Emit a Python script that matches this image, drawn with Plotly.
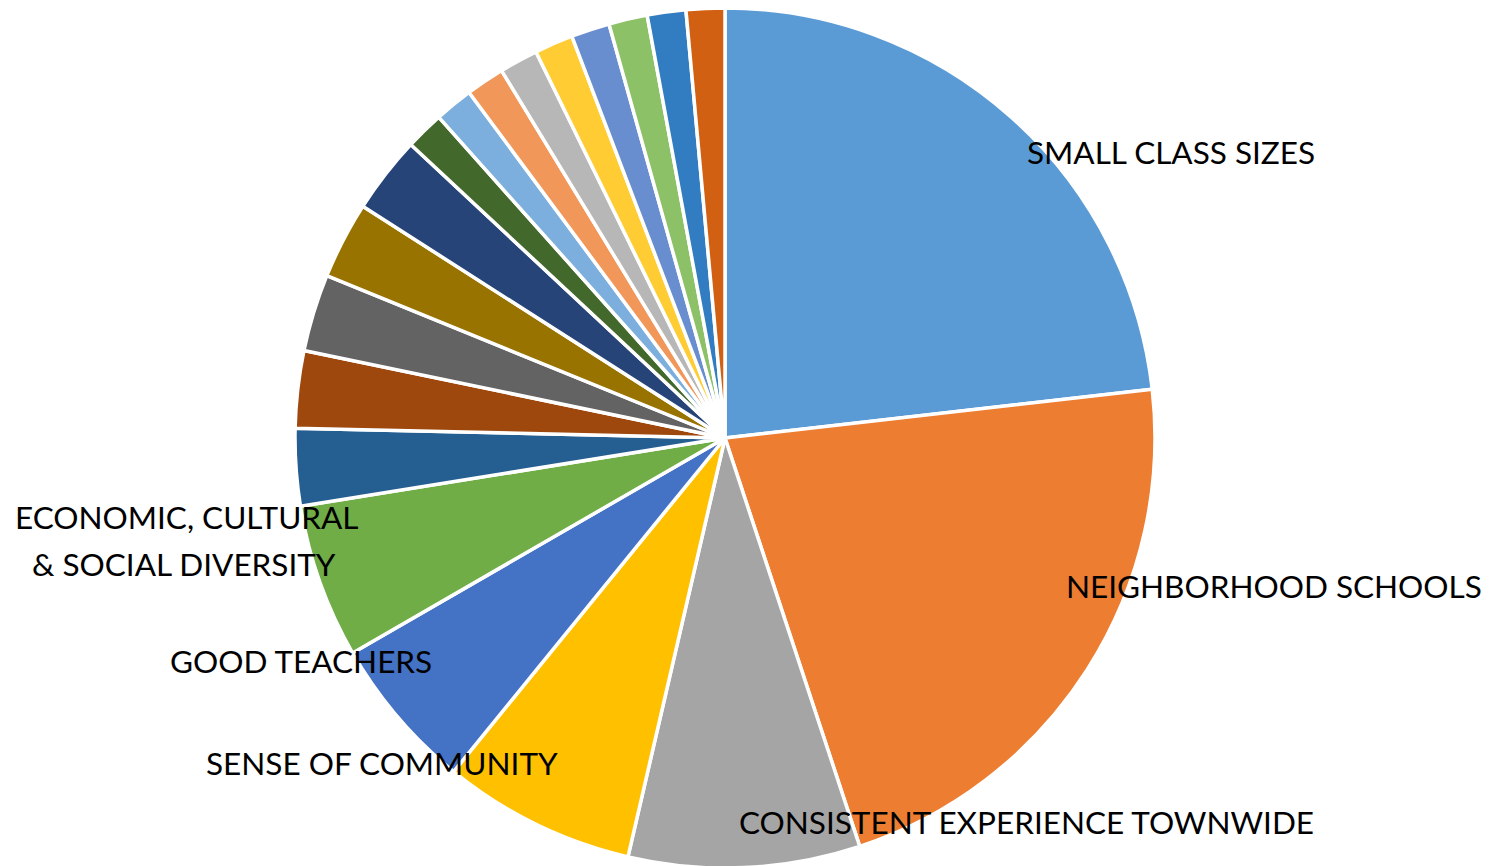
import plotly.graph_objects as go

categories = [
    "SMALL CLASS SIZES", "NEIGHBORHOOD SCHOOLS", "CONSISTENT EXPERIENCE TOWNWIDE",
    "SENSE OF COMMUNITY", "GOOD TEACHERS", "ECONOMIC, CULTURAL<br>& SOCIAL DIVERSITY",
    "Other 1", "Other 2", "Other 3", "Other 4", "Other 5", "Other 6", "Other 7",
    "Other 8", "Other 9", "Other 10", "Other 11", "Other 12", "Other 13", "Other 14",
]
values = [16, 15, 6, 5, 4, 4, 2, 2, 2, 2, 2, 1, 1, 1, 1, 1, 1, 1, 1, 1]
colors = [
    "#5B9BD5", "#ED7D31", "#A5A5A5", "#FFC000", "#4472C4", "#70AD47",
    "#255E91", "#9E480E", "#636363", "#997300", "#264478", "#43682B",
    "#7CAFDD", "#F1975A", "#B7B7B7", "#FFCD33", "#698ED0", "#8CC168",
    "#327DC2", "#D26012",
]
shown_labels = categories[:6]

W, H = 1490, 866
OFF = 8  # page body margin
# label centre positions in page pixels (layout only), one entry per text line
label_pos = [
    [(1171, 152)], [(1274, 586)], [(1026, 822)], [(382, 763)], [(301, 661)],
    [(187, 517), (184, 564)],
]

fig = go.Figure(go.Pie(
    labels=categories,
    values=values,
    sort=False,
    direction="clockwise",
    rotation=0,
    marker=dict(colors=colors, line=dict(color="white", width=3.5)),
    textinfo="none",
    hoverinfo="label+value",
    showlegend=False,
    domain=dict(x=[287 / W, 1147 / W], y=[6 / H, 1.0]),
))

annotations = []
for lab, positions in zip(shown_labels, label_pos):
    for line, (px, py) in zip(lab.split("<br>"), positions):
        annotations.append(dict(
            text=line, x=(px - OFF) / W, y=1 - (py - OFF) / H,
            xref="paper", yref="paper",
            showarrow=False, xanchor="center", yanchor="middle",
            font=dict(family="Lato", size=31.5, color="black"),
        ))

fig.update_layout(
    width=W, height=H,
    margin=dict(l=0, r=0, t=0, b=0),
    paper_bgcolor="white",
    annotations=annotations,
)
fig.write_html("out.html")
